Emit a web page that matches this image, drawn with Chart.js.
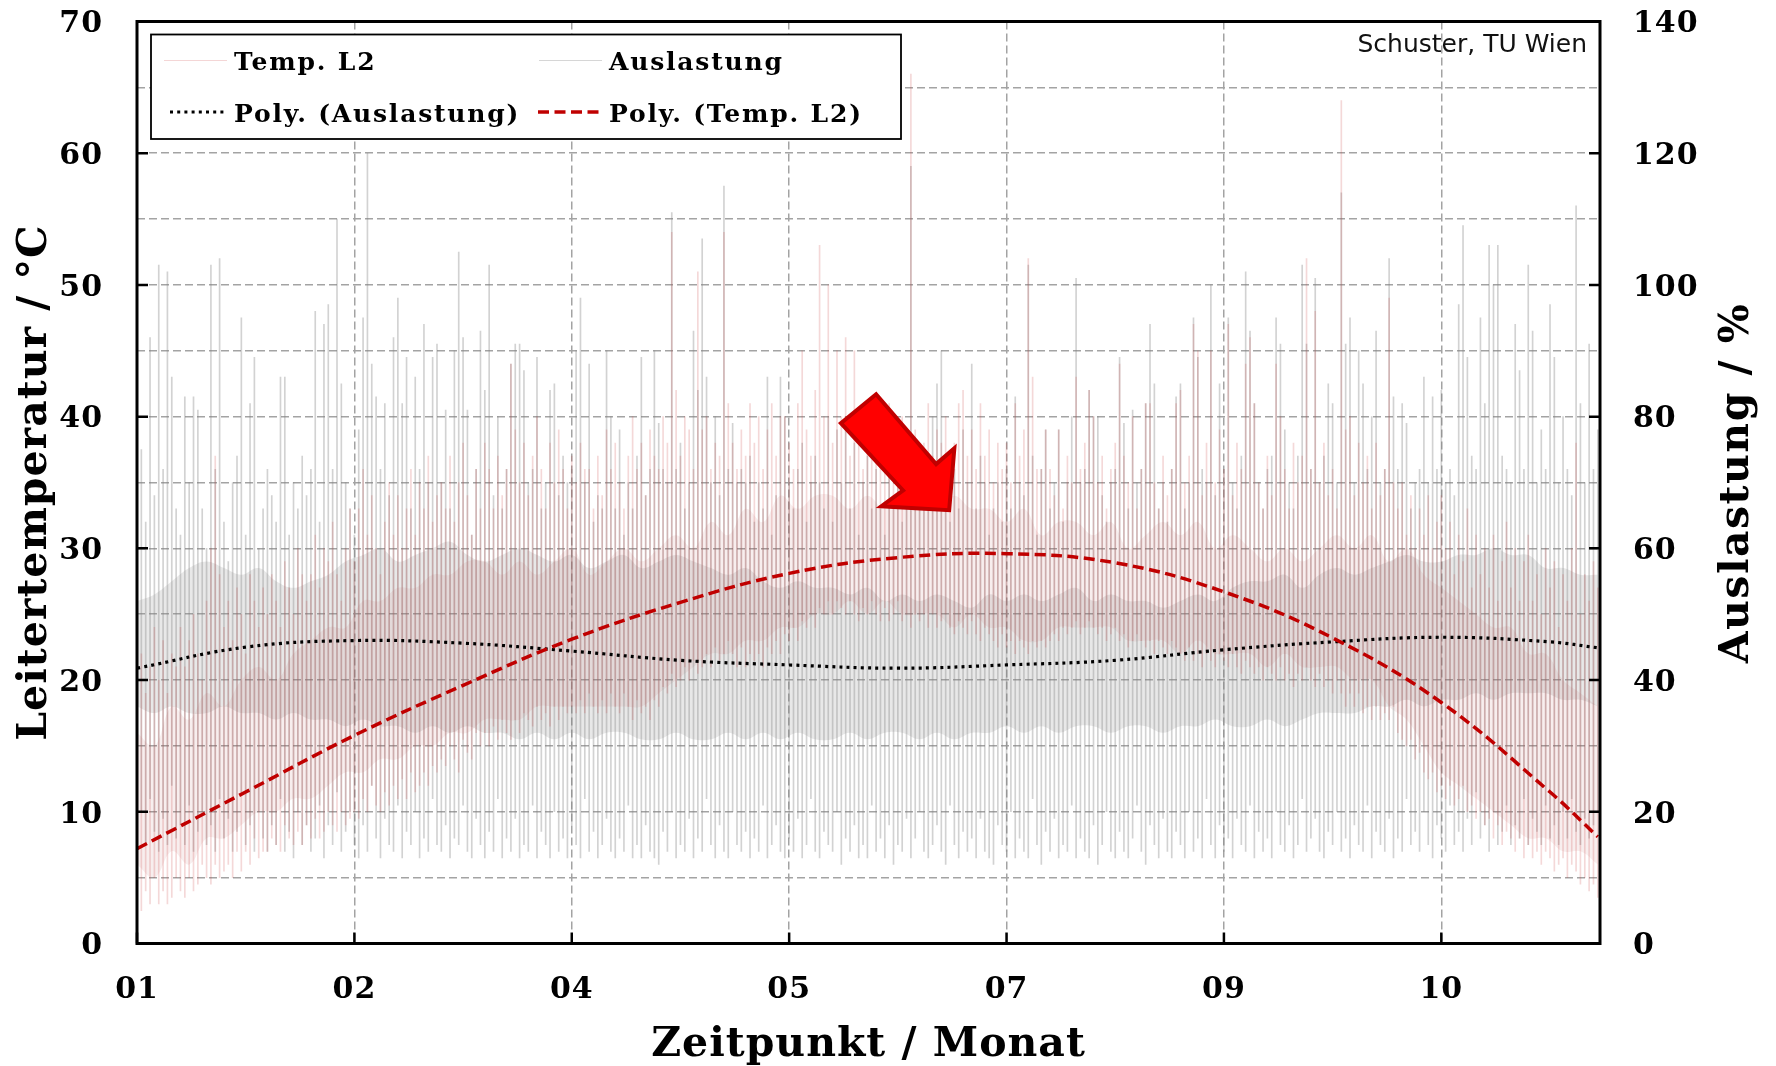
<!DOCTYPE html>
<html><head><meta charset="utf-8">
<style>html,body{margin:0;padding:0;background:#fff}canvas{display:block}</style>
<script src="https://cdn.jsdelivr.net/npm/chart.js@4"></script></head>
<body><canvas id="c" width="1776" height="1066"></canvas>
<script>
const xTickLabels=['01','02','04','05','07','09','10'];
const polyDays=[0,25,50,75,100,125,150,175,200,225,250,275,300,325,336];
const polyTemp=[7.2,11.5,15.8,19.6,23.1,25.9,28.1,29.3,29.6,28.9,26.7,23.2,18.3,11.5,8.1];
const polyAusl=[41.8,45,46,45.6,44.4,43,42.3,41.8,42.3,43,44.6,45.8,46.5,45.8,44.9];
const ausHigh=[70,75,64,92,68,103,72,102,86,66,62,83,70,83,81,66,60,103,72,104,64,58,70,74,95,62,82,89,60,66,72,68,64,86,86,62,70,66,74,68,72,96,64,94,97,72,110,85,70,66,62,78,95,120,88,83,72,82,68,92,98,82,89,66,86,72,94,70,89,91,
70,81,66,90,105,92,81,62,72,93,84,103,68,80,66,72,88,91,91,87,70,72,89,66,70,84,85,68,74,70,72,90,98,70,88,64,68,66,90,80,66,78,62,70,66,74,89,68,72,90,79,72,70,111,72,76,66,70,93,84,
107,86,70,80,68,115,72,79,70,72,70,74,64,70,66,86,62,68,86,80,70,66,72,76,64,70,74,70,66,80,64,78,70,80,66,76,62,70,74,66,72,66,62,74,68,72,64,70,118,72,70,66,74,80,85,90,70,64,72,66,
78,70,88,66,74,70,62,66,70,64,72,66,83,70,68,103,74,62,72,78,66,70,78,64,70,80,101,70,72,84,80,80,68,64,70,72,89,79,66,81,70,72,82,94,85,66,70,64,72,83,85,66,70,95,89,72,70,100,68,85,
72,95,70,66,74,102,93,82,70,66,72,74,95,91,78,70,66,74,103,91,72,101,70,74,85,82,70,114,91,95,70,90,85,72,80,93,70,72,104,83,72,82,79,66,70,72,86,70,83,72,84,70,72,68,97,109,89,74,72,95,
82,106,100,106,74,72,70,94,87,72,103,93,70,78,72,97,89,70,80,72,68,112,82,70,91,72,78];
const ausLow=[16,20,15,22,17,14,19,15,24,16,18,15,21,14,17,20,15,18,14,22,16,19,14,17,23,15,18,14,20,16,14,18,15,22,14,17,13,20,15,18,14,16,21,13,18,15,23,14,17,20,
15,13,18,14,24,16,13,19,15,14,21,13,17,15,20,13,16,14,22,15,14,18,13,16,15,21,14,13,19,15,13,17,14,22,13,16,14,19,13,15,14,21,13,17,15,13,20,14,16,13,
18,15,13,22,14,17,13,15,19,14,13,16,14,21,13,15,13,18,14,13,12,17,14,20,13,15,14,19,13,16,14,22,15,13,18,14,13,20,15,14,17,13,16,14,21,13,15,18,14,13,
16,14,19,13,15,22,14,13,17,15,14,20,12,16,14,18,13,15,13,21,14,16,13,18,12,15,14,19,13,16,20,14,13,15,18,14,12,21,15,13,17,14,16,13,19,14,13,12,18,15,
14,20,13,16,14,13,22,15,12,17,14,19,13,15,14,21,13,16,14,13,18,12,15,20,14,13,17,14,13,16,21,14,12,18,15,13,19,14,13,17,15,13,20,14,16,13,22,15,13,18,
14,16,13,19,15,14,21,13,17,14,16,13,20,15,14,18,13,15,22,14,16,19,14,13,17,15,20,14,16,13,18,15,14,21,13,17,15,14,19,13,16,14,22,15,17,14,20,15,13,18,
16,14,21,15,17,14,19,15,23,16,18,14,20,15,17,21,15,18,16,22,15,19,17,15,21,16,18,15,20,16,22,17,15,19,16,18,20];
const tempHigh=[20,22,19,21,24,20,23,19,22,21,24,21,23,25,22,20,26,30,37,28,24,26,23,27,25,22,28,26,24,27,25,28,26,24,29,27,25,30,28,26,28,31,27,30,29,32,28,26,30,33,
29,33,36,31,34,30,28,32,35,31,34,30,33,36,31,35,33,37,32,34,35,33,37,32,35,38,34,31,36,33,38,36,33,37,34,36,44,39,35,38,34,37,40,36,33,38,35,39,36,33,
37,35,38,36,36,33,37,34,39,36,38,35,33,37,40,36,38,34,39,37,36,40,38,54,42,37,40,39,36,51,39,40,36,38,37,54,41,38,36,39,37,41,38,40,36,39,41,37,40,40,
38,36,41,45,39,37,42,53,40,50,38,45,40,46,37,45,39,36,38,40,37,39,36,41,38,36,40,38,66,39,36,38,41,37,39,38,40,36,38,41,42,37,39,36,41,37,39,35,38,36,
38,35,41,37,39,52,43,36,36,39,36,34,39,33,37,35,43,36,38,42,40,35,37,33,36,38,44,37,35,40,33,36,41,41,35,33,37,34,36,41,42,35,37,47,45,34,38,45,35,39,
36,47,34,38,36,44,46,41,35,33,37,34,44,40,36,33,38,35,37,52,36,48,35,38,34,36,33,64,39,40,34,38,35,37,33,38,34,36,49,35,33,35,31,34,30,33,31,34,30,32,
34,30,32,28,31,29,33,27,31,28,30,27,31,26,29,32,27,30,26,29,31,26,28,25,30,27,29,24,28,26,30,38,25,28,26,29,27];
const tempLow=[3,2.5,4,3,5,3,4,3,3.5,5,4,3.5,5,4,4.5,6,5,4.5,6,5,5.5,6,5,7,5.5,7,6,8,6.5,7,7,8,7.5,7,9,8,7.5,8.5,7.5,9,8,9.5,8,8.5,10,9,8.5,10,9,9.5,
10,9.5,11,10,12,10.5,10,11.5,10.5,12,11,12.5,11,13,11.5,12,13,12,13.5,13,14,13.5,15,14,13,15.5,14.5,14,16,15,16,15,16.5,15.5,17,16,15.5,17,16,17.5,17,16.5,18,17,17.5,16.5,18,17,18,17.5,
18,17.5,18.5,17.5,19,18,17.5,18.5,17.5,19,18,17.5,19,18,17,18.5,17.5,18,17,18.5,18,19.5,19,20.5,19.5,20,21,20,21.5,20.5,21,22,21,22.5,21.5,22,23,22,21,22.5,21,22,21.5,22,21,22.5,22,23,22,23.5,
23,24,23,24.5,24,25,24,25.5,25,26,25,26,25.5,25,26,25,24.5,25.5,25,26,25,24.5,25.5,24.5,25,26,24.5,25,24,25,24.5,25,24,25,24,24.5,25,24,23.5,24.5,24,23.5,24.5,23.5,23,24,23.5,23,22.5,23.5,
22.5,23,22,23,22.5,22,23,22.5,23,22.5,23,23.5,23,24,23.5,24,24.5,23.5,24,24.5,24,23.5,24,23,23.5,24,23,23.5,22.5,23,23.5,23,22.5,23,22,23,22.5,22,23,22.5,22,21.5,22.5,21.5,22,21,22,21.5,21,22,
21.5,21,22,21,20.5,21.5,21,20.5,21,20,21,20.5,20,21,20,20.5,19.5,20.5,20,21,20,19.5,20.5,19.5,20,19,20,19,18,19,18,19,17.5,18,17,18,17,17.5,17,18,16,15.5,15,15.5,14,14.5,13,12.5,13,11.5,
12,11,12,10.5,11,12,10,10.5,9.5,10,9,9.5,8,9,7.5,8.5,8,7,8,6.5,7.5,6.5,7,6,7,6.5,5.5,6,6.5,5,6,5.5,4.5,5,4,4.5,3.5];
const ausCoreHigh=[52,53,55,57,58,57,56,57,55,54,55,56,58,59,60,58,59,60,61,59,58,59,60,59,58,59,57,58,59,57,58,59,58,57,56,57,55,54,55,54,54,53,54,52,53,52,53,52,51,53,52,53,52,53,54,52,53,52,52,51,52,53,52,54,55,55,56,54,56,57,56,57,58,59,58,58,59,59,60,59,59,57,57,56,56];
const ausCoreLow=[36,35,36,35,35,36,35,35,34,35,34,34,33,34,33,33,32,33,32,33,32,32,31,32,31,32,31,32,32,31,31,32,31,31,32,31,32,31,32,31,31,32,31,32,32,31,32,31,32,32,33,32,33,32,33,33,32,33,33,32,33,33,34,33,33,34,33,34,35,35,35,36,36,37,36,37,37,38,37,38,38,38,37,37,36];
const tempCoreHigh=[16,15,18,17,19,18,20,21,20,22,23,24,24,26,26,27,27,28,28,29,29,28,29,28,29,30,28,29,30,29,30,31,30,32,31,33,32,34,33,34,34,33,34,33,34,35,33,34,33,33,32,33,31,32,32,31,32,30,31,32,31,32,30,31,30,29,30,29,30,31,30,31,29,30,28,27,26,25,24,24,22,22,20,19,18];
const tempCoreLow=[6,5,7,6,8,8,9,10,10,11,11,12,13,13,14,14,15,15,16,16,17,17,17,18,18,18,18,18,18,18,19,20,21,22,22,23,23,24,24,25,25,26,25,26,25,25,25,24,25,24,24,23,23,24,24,24,24,23,23,23,22,23,22,22,22,21,22,21,21,21,20,20,18,17,15,13,12,11,10,9,8,8,7,7,6];
const arrowDays=[170,161.9,176.2,171.2,186.8,188,183.8];
const arrowTemps=[41.7,39.5,34.4,33.2,32.9,37.6,36.4];

const SERIF='"DejaVu Serif"';
const band=v=>v.map((y,i)=>({x:Math.min(i*4,336),y}));
const spikes=(lo,hi)=>hi.map((h,i)=>({x:i,y:[lo[i],h]}));
const poly=v=>v.map((y,i)=>({x:polyDays[i],y}));
const hidden={type:'line',borderWidth:0,pointRadius:0,tension:.4};
const noPad=s=>{s.paddingTop=0;s.paddingBottom=0;s.paddingLeft=0;s.paddingRight=0;};

const deco={id:'deco',
 beforeDraw(ch){ch.ctx.letterSpacing='1px';},
 afterDatasetsDraw(ch){
  const c=ch.ctx,x=ch.scales.x,y=ch.scales.y;
  c.save();c.letterSpacing='0px';
  c.beginPath();
  arrowDays.forEach((d,i)=>{const px=x.getPixelForValue(d),py=y.getPixelForValue(arrowTemps[i]);i?c.lineTo(px,py):c.moveTo(px,py);});
  c.closePath();c.fillStyle='#ff0000';c.fill();c.strokeStyle='#c00000';c.lineWidth=4;c.lineJoin='miter';c.stroke();
  c.restore();
 },
 afterDraw(ch){
  const c=ch.ctx,a=ch.chartArea,x=ch.scales.x,y=ch.scales.y;
  c.save();
  c.strokeStyle='#000';c.lineWidth=2.5;
  for(let v=10;v<70;v+=10){const p=y.getPixelForValue(v);
   c.beginPath();c.moveTo(a.left,p);c.lineTo(a.left+11,p);c.moveTo(a.right,p);c.lineTo(a.right-11,p);c.stroke();}
  xTickLabels.forEach((_,i)=>{const p=x.getPixelForValue(i*50);c.beginPath();c.moveTo(p,a.bottom);c.lineTo(p,a.bottom-11);c.stroke();});
  c.lineWidth=3;c.strokeRect(a.left,a.top,a.right-a.left,a.bottom-a.top);
  // legend
  const L=151,T=34.5,W=750,H=104.5;
  c.fillStyle='#fff';c.fillRect(L,T,W,H);c.lineWidth=1.8;c.strokeRect(L,T,W,H);
  c.fillStyle='#000';c.font='bold 25px '+SERIF;c.letterSpacing='1.8px';c.textAlign='left';c.textBaseline='alphabetic';
  c.fillText('Temp. L2',234,70);c.fillText('Auslastung',609,70);
  c.fillText('Poly. (Auslastung)',234,122);c.fillText('Poly. (Temp. L2)',609,122);
  c.lineWidth=1;c.strokeStyle='#f4d6d6';c.beginPath();c.moveTo(164,60.5);c.lineTo(227,60.5);c.stroke();
  c.strokeStyle='#d6d6d6';c.beginPath();c.moveTo(539,60.5);c.lineTo(602,60.5);c.stroke();
  c.lineWidth=3.2;c.strokeStyle='#000';c.setLineDash([3,4.2]);c.beginPath();c.moveTo(170,112);c.lineTo(227,112);c.stroke();
  c.lineWidth=3.5;c.strokeStyle='#c00000';c.setLineDash([11,5.5]);c.beginPath();c.moveTo(538,112);c.lineTo(604,112);c.stroke();
  c.setLineDash([]);
  // note
  c.letterSpacing='0px';c.font='25px "DejaVu Sans"';c.textAlign='right';c.fillStyle='#111';
  c.fillText('Schuster, TU Wien',1587,52);
  // right title
  c.save();c.translate(1737,483);c.rotate(-Math.PI/2);c.font='bold 41px '+SERIF;c.letterSpacing='1.5px';c.textAlign='center';c.textBaseline='middle';c.fillStyle='#000';
  c.fillText('Auslastung / %',0,0);c.restore();
  c.restore();
 }};

new Chart(document.getElementById('c'),{
 data:{datasets:[
  {type:'line',label:'Poly. (Temp. L2)',data:poly(polyTemp),yAxisID:'y',borderColor:'#c00000',borderWidth:3.5,borderDash:[11,5.5],pointRadius:0,tension:.4,order:0},
  {type:'line',label:'Poly. (Auslastung)',data:poly(polyAusl),yAxisID:'yR',borderColor:'#000',borderWidth:3.2,borderDash:[3,4.2],pointRadius:0,tension:.4,order:1},
  {type:'bar',label:'Temp. L2',data:spikes(tempLow,tempHigh),yAxisID:'y',backgroundColor:'rgba(200,60,60,.2)',barThickness:1,grouped:false,order:2},
  {type:'bar',label:'Auslastung',data:spikes(ausLow,ausHigh),yAxisID:'yR',backgroundColor:'rgba(130,130,130,.36)',barThickness:1,grouped:false,order:3},
  {...hidden,label:'Temp core high',data:band(tempCoreHigh),yAxisID:'y',fill:'+1',backgroundColor:'rgba(170,40,40,.08)',order:4},
  {...hidden,label:'Temp core low',data:band(tempCoreLow),yAxisID:'y',order:4},
  {...hidden,label:'Aus core high',data:band(ausCoreHigh),yAxisID:'yR',fill:'+1',backgroundColor:'rgba(150,150,150,.22)',order:5},
  {...hidden,label:'Aus core low',data:band(ausCoreLow),yAxisID:'yR',order:5}
 ]},
 options:{responsive:false,animation:false,devicePixelRatio:1,
  layout:{autoPadding:false,padding:{top:21.5,left:0,right:0,bottom:0}},
  plugins:{legend:{display:false},tooltip:{enabled:false}},
  scales:{
   x:{type:'linear',position:'bottom',min:0,max:336.5,offset:false,
    afterFit(s){noPad(s);s.height=122.5;},
    border:{display:false,dash:[8,4]},
    grid:{offset:false,color:'#a3a3a3',lineWidth:1.5,drawTicks:false},
    ticks:{stepSize:50,includeBounds:false,autoSkip:false,maxRotation:0,padding:29,color:'#000',font:{family:SERIF,weight:'bold',size:30},
     callback:v=>xTickLabels[v/50]},
    title:{display:true,text:'Zeitpunkt / Monat',color:'#000',font:{family:SERIF,weight:'bold',size:41,lineHeight:1},padding:{top:0,bottom:0}}
   },
   y:{type:'linear',position:'left',min:0,max:70,
    afterFit(s){noPad(s);s.width=137;},
    border:{display:false,dash:[8,4]},
    grid:{color:'#a3a3a3',lineWidth:1.5,drawTicks:false},
    ticks:{stepSize:5,includeBounds:false,autoSkip:false,padding:34,labelOffset:3,color:'#000',font:{family:SERIF,weight:'bold',size:30},
     callback:v=>v%10===0?String(v):''},
    title:{display:true,text:'Leitertemperatur / °C',color:'#000',font:{family:SERIF,weight:'bold',size:41,lineHeight:1},padding:{top:15,bottom:0}}
   },
   yR:{type:'linear',position:'right',min:0,max:140,
    afterFit(s){noPad(s);s.width=176;},
    border:{display:false},
    grid:{drawOnChartArea:false,drawTicks:false},
    ticks:{stepSize:20,includeBounds:false,autoSkip:false,padding:33,labelOffset:3,color:'#000',font:{family:SERIF,weight:'bold',size:30}}
   }
  }
 },
 plugins:[deco]
});
</script></body></html>
